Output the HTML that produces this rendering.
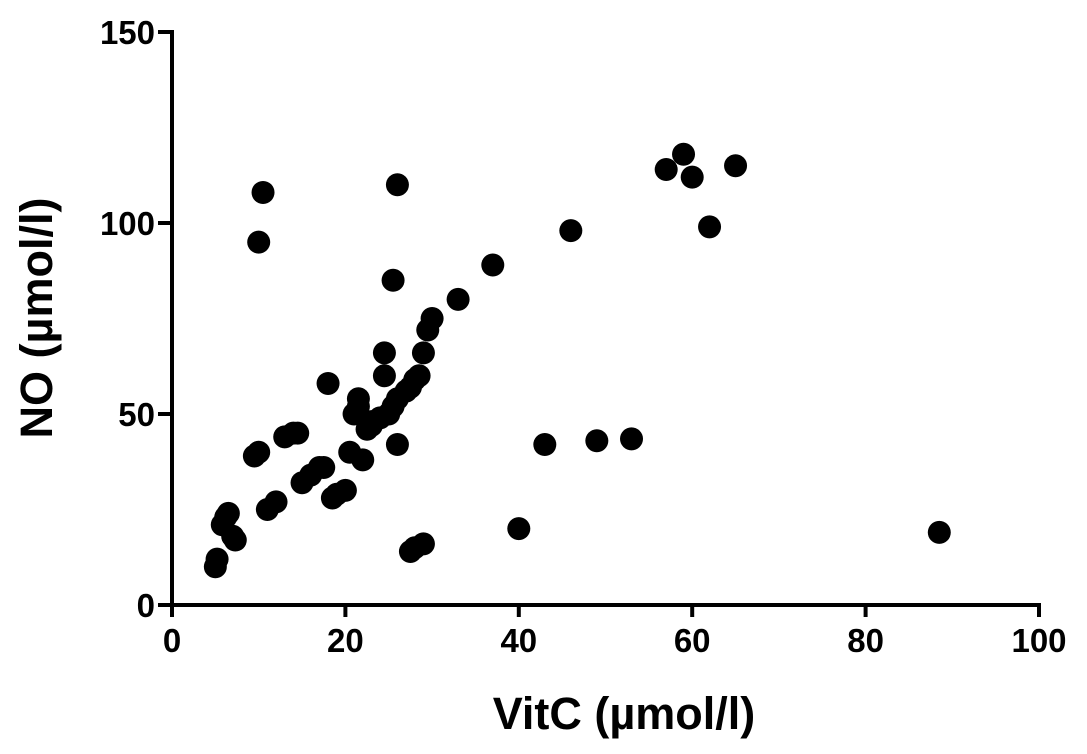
<!DOCTYPE html>
<html><head><meta charset="utf-8"><style>
html,body{margin:0;padding:0;background:#fff;}
svg{display:block;font-family:"Liberation Sans",sans-serif;font-weight:bold;}
</style></head><body>
<svg id="chart" width="1087" height="754">
<g id="axes"></g><g id="pts"></g>
<text x="624" y="729" font-size="45" text-anchor="middle">VitC (µmol/l)</text>
<text transform="translate(52,318) rotate(-90)" font-size="45" text-anchor="middle">NO (µmol/l)</text>
</svg>
<script>
const xVals=[5,5.2,5.8,6.2,6.5,7,7.3,9.5,10,10,10.5,11,12,13,14,14.5,15,16,17,17.5,18,18.5,19,20,20.5,21,21.5,21.5,22,22.5,23,23,24,24.5,24.5,25,25.5,25.5,26,26,26,27,27.5,28,28.5,27.5,28,29,29,29.5,30,33,37,40,43,46,49,53,57,59,60,62,65,88.5];
const yVals=[10,12,21,23,24,18,17,39,40,95,108,25,27,44,45,45,32,34,36,36,58,28,29,30,40,50,52,54,38,46,47,48,49,60,66,50,52,85,110,42,54,56,57,59,60,14,15,16,66,72,75,80,89,20,42,98,43,43.5,114,118,112,99,115,19];
const xTicks=[0,20,40,60,80,100];
const yTicks=[0,50,100,150];
const NS="http://www.w3.org/2000/svg";
const sx=v=>172+v*8.67, sy=v=>605-v*3.82;
const axes=document.getElementById('axes'), pts=document.getElementById('pts');
function mk(tag,at,parent){const e=document.createElementNS(NS,tag);for(const k in at)e.setAttribute(k,at[k]);parent.appendChild(e);return e;}
let l=mk('line',{x1:sx(0),y1:sy(150)-2,x2:sx(0),y2:sy(0)+2,stroke:'#000','stroke-width':4},axes);


l=mk('line',{x1:sx(0)-2,y1:sy(0),x2:sx(100)+2,y2:sy(0),stroke:'#000','stroke-width':4},axes);


xTicks.forEach(t=>{
 const tk=mk('line',{x1:sx(t),y1:sy(0),x2:sx(t),y2:sy(0)+12,stroke:'#000','stroke-width':4},axes);
 
 
 const tx=mk('text',{x:sx(t),y:sy(0)+47,'font-size':33,'text-anchor':'middle'},axes);
 tx.textContent=t;
 
 
});
yTicks.forEach(t=>{
 const tk=mk('line',{x1:sx(0)-14,y1:sy(t),x2:sx(0),y2:sy(t),stroke:'#000','stroke-width':4},axes);
 
 
 const tx=mk('text',{x:sx(0)-17,y:sy(t)+12,'font-size':33,'text-anchor':'end'},axes);
 tx.textContent=t;
 
 
});
xVals.forEach((x,i)=>{
 const c=mk('circle',{cx:sx(x),cy:sy(yVals[i]),r:11.5,fill:'#000'},pts);
 
 
});
</script>
</body></html>
